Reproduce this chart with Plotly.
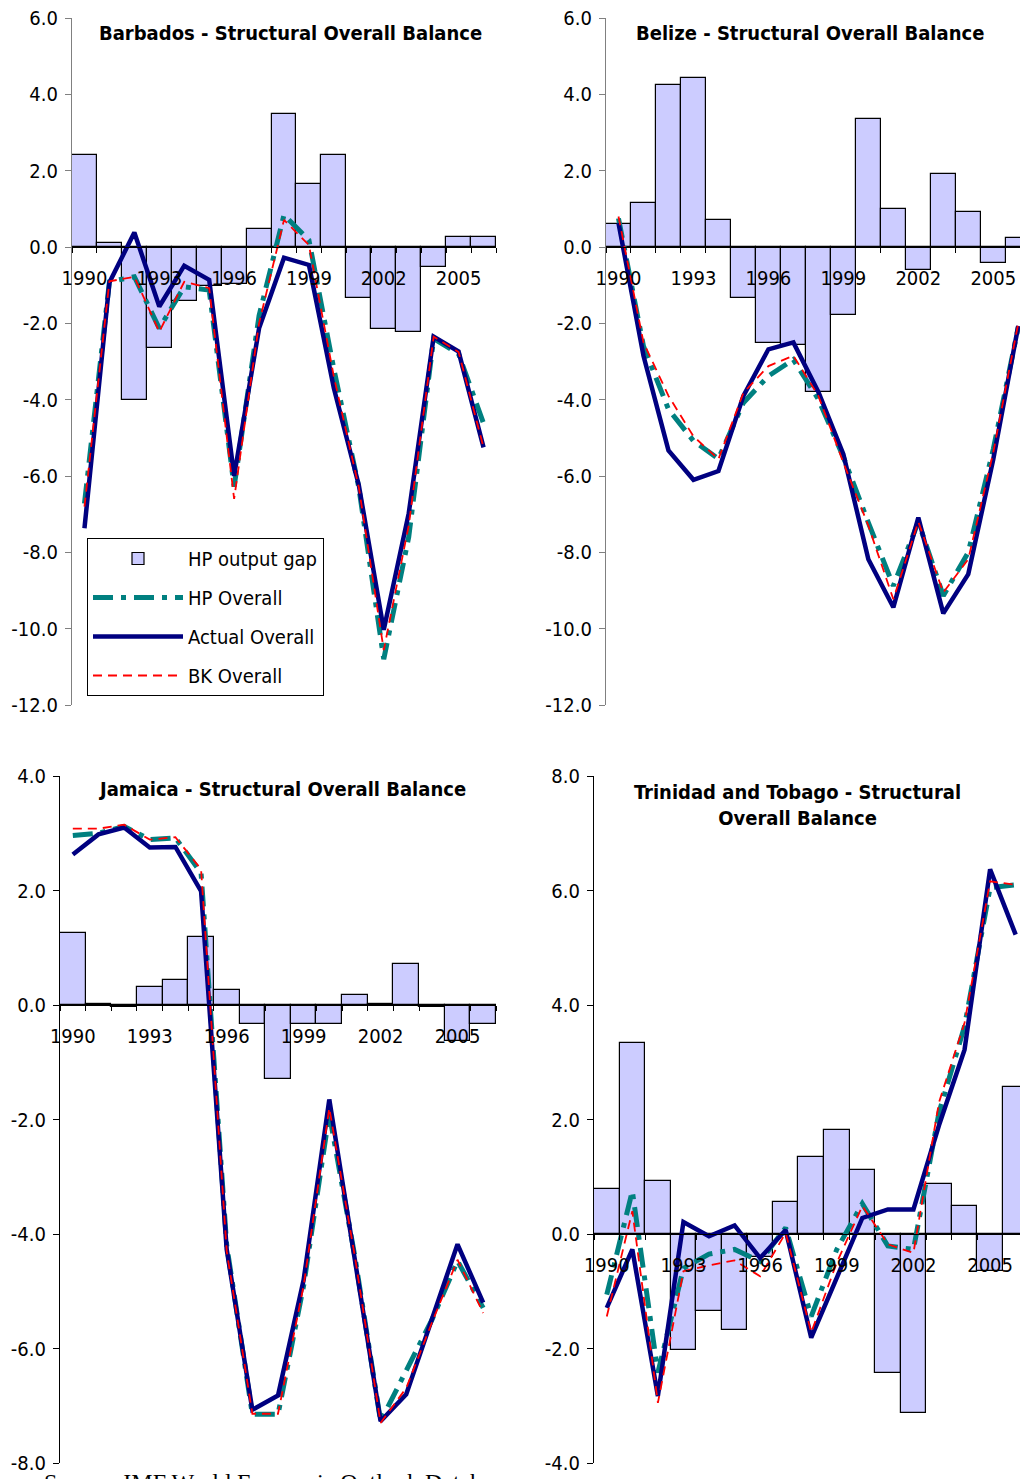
import plotly.graph_objects as go

# ---------------- data ----------------
years = list(range(1990, 2007))
x_tick_years = [1990, 1993, 1996, 1999, 2002, 2005]
x_tick_labels = ["1990", "1993", "1996", "1999", "2002", "2005"]

barbados_gap = [2.4, 0.1, -4.0, -2.65, -1.41, -1.02, -0.98, 0.46, 3.48, 1.66, 2.4, -1.33, -2.16, -2.22, -0.53, 0.26, 0.26]
barbados_hp = [-6.72, -0.91, -0.78, -2.13, -1.04, -1.13, -6.28, -1.8, 0.84, 0.18, -3.2, -6.3, -10.8, -7.6, -2.4, -2.8, -4.62]
barbados_actual = [-7.37, -0.93, 0.38, -1.56, -0.49, -0.86, -6.0, -2.13, -0.28, -0.47, -3.7, -6.24, -10.03, -6.98, -2.35, -2.74, -5.25]
barbados_bk = [-6.8, -0.9, -0.78, -2.22, -0.91, -1.08, -6.6, -2.0, 0.71, 0.05, -3.4, -6.3, -10.56, -7.3, -2.35, -2.75, -5.25]

belize_gap = [0.6, 1.14, 4.25, 4.44, 0.7, -1.34, -2.52, -2.58, -3.81, -1.79, 3.35, 1.0, -0.59, 1.92, 0.92, -0.41, 0.24]
belize_hp = [0.75, -2.6, -4.25, -5.08, -5.55, -4.08, -3.38, -2.95, -3.99, -5.5, -7.22, -8.88, -7.2, -9.14, -8.0, -5.3, -2.1]
belize_actual = [0.63, -2.85, -5.33, -6.1, -5.87, -3.9, -2.68, -2.5, -3.8, -5.43, -8.18, -9.44, -7.09, -9.6, -8.57, -5.56, -2.07]
belize_bk = [0.8, -2.5, -3.9, -4.96, -5.56, -3.82, -3.12, -2.85, -3.9, -5.65, -7.3, -9.23, -7.2, -9.05, -8.18, -5.38, -2.0]

jamaica_gap = [1.25, 0.02, -0.03, 0.32, 0.43, 1.18, 0.26, -0.33, -1.29, -0.34, -0.33, 0.18, 0.02, 0.72, -0.03, -0.63, -0.33]
jamaica_hp = [2.96, 3.0, 3.12, 2.89, 2.92, 2.31, -4.2, -7.15, -7.15, -4.9, -1.9, -4.4, -7.27, -6.4, -5.5, -4.47, -5.29]
jamaica_actual = [2.63, 2.98, 3.1, 2.75, 2.76, 1.99, -4.27, -7.07, -6.82, -4.8, -1.65, -4.5, -7.27, -6.8, -5.49, -4.18, -5.2]
jamaica_bk = [3.08, 3.08, 3.15, 2.89, 2.93, 2.37, -4.3, -7.14, -7.14, -4.9, -1.8, -4.4, -7.3, -6.69, -5.55, -4.45, -5.38]

trinidad_gap = [0.79, 3.33, 0.92, -2.03, -1.34, -1.67, -0.4, 0.56, 1.35, 1.81, 1.11, -2.42, -3.12, 0.88, 0.49, -0.64, 2.56]
trinidad_hp = [-1.06, 0.75, -2.42, -0.6, -0.35, -0.27, -0.48, 0.11, -1.44, -0.27, 0.53, -0.21, -0.27, 2.12, 3.63, 6.05, 6.1]
trinidad_actual = [-1.29, -0.27, -2.83, 0.21, -0.04, 0.15, -0.42, 0.07, -1.81, -0.75, 0.28, 0.43, 0.43, 1.9, 3.22, 6.37, 5.23]
trinidad_bk = [-1.44, 0.4, -2.95, -0.65, -0.55, -0.46, -0.74, 0.02, -1.72, -0.5, 0.49, -0.18, -0.33, 2.3, 3.69, 6.16, 6.1]

titles = [
    "Barbados - Structural Overall Balance",
    "Belize - Structural Overall Balance",
    "Jamaica - Structural Overall Balance",
    "Trinidad and Tobago - Structural<br>Overall Balance",
]
series_names = ["HP output gap", "HP Overall", "Actual Overall", "BK Overall"]
source_text = "Source: IMF World Economic Outlook Database"

# ---------------- layout helpers ----------------
W, H = 1020, 1479
FONT = "DejaVu Sans Condensed, DejaVu Sans, Verdana, sans-serif"


def px_x(p):
    return p / W


def px_y(p):
    return 1 - p / H


panels = [
    dict(gap=barbados_gap, hp=barbados_hp, act=barbados_actual, bk=barbados_bk,
         xd=(72, 496), yd=(18, 705), yr=(-12, 6), xend=2006.5, lc="#808080",
         tx=290, ty=33),
    dict(gap=belize_gap, hp=belize_hp, act=belize_actual, bk=belize_bk,
         xd=(606, 1020), yd=(18, 705), yr=(-12, 6), xend=2006.07, lc="#808080",
         tx=810, ty=33),
    dict(gap=jamaica_gap, hp=jamaica_hp, act=jamaica_actual, bk=jamaica_bk,
         xd=(60, 496), yd=(776, 1463), yr=(-8, 4), xend=2006.5, lc="#000000",
         tx=282, ty=789),
    dict(gap=trinidad_gap, hp=trinidad_hp, act=trinidad_actual, bk=trinidad_bk,
         xd=(594, 1020), yd=(776, 1463), yr=(-4, 8), xend=2006.17, lc="#000000",
         tx=797, ty=805),
]

fig = go.Figure()
layout = dict(
    width=W, height=H, margin=dict(l=0, r=0, t=0, b=0, autoexpand=False),
    paper_bgcolor="white", plot_bgcolor="rgba(0,0,0,0)",
    font=dict(family=FONT, size=20, color="black"),
    barmode="overlay", bargap=0,
    annotations=[], showlegend=True,
)

for i, p in enumerate(panels):
    n = "" if i == 0 else str(i + 1)
    xa, ya = "x" + n, "y" + n
    show = i == 0
    fig.add_trace(go.Bar(
        x=years, y=p["gap"], width=1, name=series_names[0], xaxis=xa, yaxis=ya,
        marker=dict(color="#CCCCFF", line=dict(color="black", width=1.2)),
        showlegend=show, legendgroup="g1"))
    fig.add_trace(go.Scatter(
        x=years, y=p["hp"], mode="lines", name=series_names[1], xaxis=xa, yaxis=ya,
        line=dict(color="#008080", width=5, dash="20px,8px,5px,8px"),
        showlegend=show, legendgroup="g2"))
    fig.add_trace(go.Scatter(
        x=years, y=p["act"], mode="lines", name=series_names[2], xaxis=xa, yaxis=ya,
        line=dict(color="#000080", width=4.5),
        showlegend=show, legendgroup="g3"))
    fig.add_trace(go.Scatter(
        x=years, y=p["bk"], mode="lines", name=series_names[3], xaxis=xa, yaxis=ya,
        line=dict(color="#FF0000", width=1.8, dash="9px,6px"),
        showlegend=show, legendgroup="g4"))

    y0, y1 = px_y(p["yd"][1]), px_y(p["yd"][0])
    ymin, ymax = p["yr"]
    zero_pos = y0 + (0 - ymin) / (ymax - ymin) * (y1 - y0)
    yvals = list(range(ymin, ymax + 1, 2))
    layout["xaxis" + n] = dict(
        domain=[px_x(p["xd"][0]), px_x(p["xd"][1])],
        range=[1989.5, p["xend"]], anchor="free", position=zero_pos,
        showline=True, linecolor="black", linewidth=1.2,
        tickmode="array", tickvals=x_tick_years, ticktext=x_tick_labels,
        ticks="", ticklabelstandoff=13, showgrid=False, zeroline=False,
        tickfont=dict(size=20),
        minor=dict(tickmode="linear", tick0=1989.5, dtick=1, ticks="outside",
                   ticklen=5, tickcolor="black", showgrid=False),
    )
    layout["yaxis" + n] = dict(
        domain=[y0, y1], range=[ymin, ymax], anchor=xa,
        tickmode="array", tickvals=yvals, ticktext=[f"{v:.1f}" for v in yvals],
        ticks="outside", ticklen=6, tickcolor=p["lc"], showline=True,
        linecolor=p["lc"], linewidth=1.2, showgrid=False, zeroline=False,
        ticklabelstandoff=3, tickfont=dict(size=20),
    )
    layout["annotations"].append(dict(
        text="<b>" + titles[i] + "</b>", x=px_x(p["tx"]), y=px_y(p["ty"]),
        xref="paper", yref="paper", showarrow=False, xanchor="center",
        yanchor="middle", font=dict(size=20, family=FONT)))

layout["annotations"].append(dict(
    text=source_text, x=px_x(42), y=px_y(1467), xref="paper", yref="paper",
    showarrow=False, xanchor="left", yanchor="top",
    font=dict(size=24, family="Liberation Serif, DejaVu Serif, serif")))

layout["legend"] = dict(
    x=px_x(87), y=px_y(538), xanchor="left", yanchor="top",
    bordercolor="black", borderwidth=1, bgcolor="white",
    font=dict(size=20, family=FONT), traceorder="grouped",
    tracegroupgap=10, itemwidth=90,
)

fig.update_layout(**layout)
fig.write_html("out.html", config={"displayModeBar": False},
               post_script="document.body.style.margin='0px';")
